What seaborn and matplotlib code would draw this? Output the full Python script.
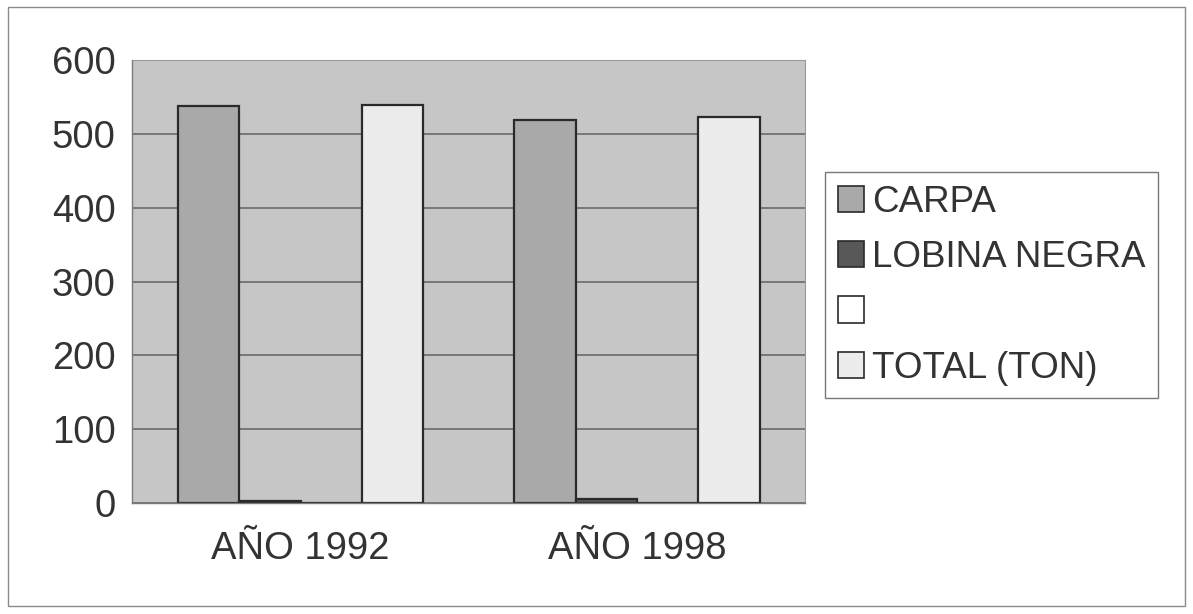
import matplotlib
matplotlib.use("Agg")
import matplotlib.pyplot as plt
import matplotlib.patches as mpatches
import seaborn as sns
import pandas as pd

# data
years = ["AÑO 1992", "AÑO 1998"]
series = ["CARPA", "LOBINA NEGRA", " ", "TOTAL (TON)"]
carpa = [538, 519]
lobina = [2, 5]
blank = [0, 0]
total = [539, 523]

colors = ["#a9a9a9", "#585858", "#ffffff", "#ececec"]

df = pd.DataFrame({
    "year": years * 4,
    "serie": [s for s in series for _ in years],
    "value": carpa + lobina + blank + total,
})

sns.set_style("white")
plt.rcParams["font.family"] = ["Liberation Sans", "DejaVu Sans"]

fig = plt.figure(figsize=(11.93, 6.14), dpi=100)
ax = fig.add_axes([0.111, 0.181, 0.564, 0.721])

sns.barplot(data=df, x="year", y="value", hue="serie", hue_order=series,
            palette=colors, width=0.73, gap=0, edgecolor="#2a2a2a",
            linewidth=1.6, saturation=1, legend=False, ax=ax)

ax.set_facecolor("#c6c6c6")
ax.set_ylim(0, 600)
ax.set_xlim(-0.5, 1.5)
ax.set_yticks(range(0, 601, 100))
ax.yaxis.grid(True, color="#6a6a6a", linewidth=1.2)
ax.set_axisbelow(True)
ax.set_xlabel("")
ax.set_ylabel("")

for side in ["top", "right"]:
    ax.spines[side].set_color("#9a9a9a")
    ax.spines[side].set_linewidth(0.8)
for side in ["left", "bottom"]:
    ax.spines[side].set_color("#7a7a7a")
    ax.spines[side].set_linewidth(1.0)

# tick marks: outward on y, category separators on x
ax.tick_params(axis="y", which="major", direction="out", length=9, width=1,
               color="#555555", labelsize=27.5, labelcolor="#333333", pad=3)
ax.tick_params(axis="x", which="major", length=0, labelsize=27.5,
               labelcolor="#333333", pad=20)
ax.set_xticks([-0.5, 0.5, 1.5], minor=True)
ax.tick_params(axis="x", which="minor", direction="out", length=10, width=1,
               color="#555555")

handles = [mpatches.Patch(facecolor=c, edgecolor="#2a2a2a", linewidth=1.2)
           for c in colors]
leg = fig.legend(handles, series, loc="upper left",
                 bbox_to_anchor=(0.6915, 0.72), borderaxespad=0,
                 fontsize=26.5, frameon=True,
                 fancybox=False, edgecolor="#555555", handlelength=0.72,
                 handleheight=0.72, handletextpad=0.2, labelspacing=0.55,
                 borderpad=0.35, labelcolor="#333333")
leg.get_frame().set_linewidth(1.0)

# thin border around the whole chart
fig.patches.append(mpatches.Rectangle((0.007, 0.013), 0.986, 0.975,
                                      transform=fig.transFigure, fill=False,
                                      edgecolor="#8a8a8a", linewidth=1.0))

fig.savefig("out.png", dpi=100)
plt.close()
